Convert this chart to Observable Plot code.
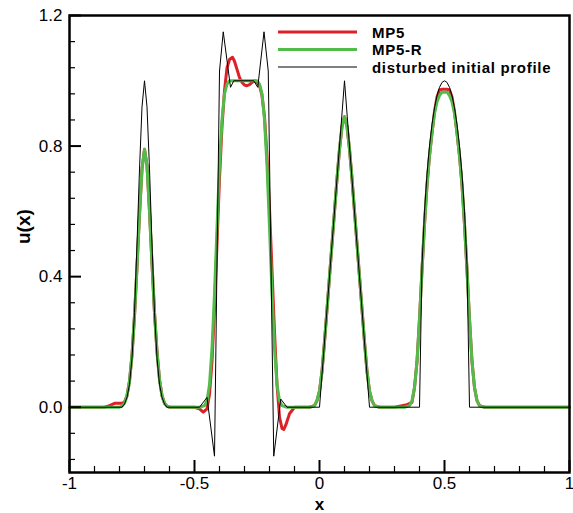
<!DOCTYPE html>
<html>
<head>
<meta charset="utf-8">
<script src="https://cdn.jsdelivr.net/npm/d3@7"></script>
<script src="https://cdn.jsdelivr.net/npm/@observablehq/plot@0.6"></script>
<style>
  body { margin: 0; background: white; }
</style>
</head>
<body>
<div id="chart"></div>
<script>
// ---- data ----
const seriesNames = ["MP5", "MP5-R", "disturbed initial profile"];

const blackX = [-1, -0.79, -0.78, -0.77, -0.76, -0.75, -0.74, -0.73, -0.72, -0.71, -0.70, -0.69, -0.68, -0.67, -0.66, -0.65, -0.64, -0.63, -0.62, -0.61,
  -0.48, -0.45, -0.42, -0.40, -0.385, -0.356, -0.343, -0.263, -0.247, -0.222, -0.205, -0.183, -0.155, -0.13,
  0, 0.1, 0.2, 0.4, 0.41, 0.42, 0.43, 0.44, 0.45, 0.46, 0.47, 0.48, 0.49, 0.50, 0.51, 0.52, 0.53, 0.54, 0.55, 0.56, 0.57, 0.58, 0.59, 0.60, 1];
const blackY = [0, 0, 0.01, 0.03, 0.07, 0.15, 0.29, 0.50, 0.73, 0.92, 1.00, 0.92, 0.73, 0.50, 0.29, 0.15, 0.07, 0.03, 0.01, 0,
  0, 0.03, -0.15, 1.03, 1.15, 0.98, 1.0, 1.0, 0.98, 1.15, 1.03, -0.15, 0.025, 0,
  0, 1.0, 0, 0, 0.436, 0.60, 0.714, 0.80, 0.866, 0.917, 0.954, 0.98, 0.995, 1.0, 0.995, 0.98, 0.954, 0.917, 0.866, 0.80, 0.714, 0.60, 0.436, 0, 0];

const mp5rX = [-1, -0.80, -0.79, -0.78, -0.77, -0.76, -0.75, -0.74, -0.73, -0.72, -0.71, -0.70, -0.69, -0.68, -0.67, -0.66, -0.65, -0.64, -0.63, -0.62, -0.61, -0.60,
  -0.48, -0.46, -0.45, -0.44, -0.43, -0.42, -0.41, -0.40, -0.39, -0.38, -0.37, -0.36, -0.25, -0.24, -0.23, -0.22, -0.21, -0.20, -0.19, -0.18, -0.17, -0.16, -0.15, -0.13,
  -0.04, -0.02, -0.01, 0.00, 0.01, 0.02, 0.03, 0.04, 0.05, 0.06, 0.07, 0.08, 0.09, 0.10, 0.11, 0.12, 0.13, 0.14, 0.15, 0.16, 0.17, 0.18, 0.19, 0.20, 0.21, 0.22, 0.24,
  0.34, 0.36, 0.37, 0.38, 0.39, 0.40, 0.41, 0.42, 0.43, 0.44, 0.45, 0.46, 0.47, 0.48, 0.49, 0.50, 0.51, 0.52, 0.53, 0.54, 0.55, 0.56, 0.57, 0.58, 0.59, 0.60, 0.61, 0.62, 0.63, 0.64, 0.66, 1];
const mp5rY = [0, 0, 0.003, 0.012, 0.035, 0.08, 0.16, 0.28, 0.43, 0.59, 0.73, 0.79, 0.74, 0.60, 0.44, 0.29, 0.17, 0.085, 0.035, 0.012, 0.003, 0,
  0, 0.005, 0.02, 0.07, 0.18, 0.35, 0.55, 0.74, 0.88, 0.96, 0.99, 1.0, 1.0, 0.99, 0.96, 0.88, 0.74, 0.55, 0.35, 0.18, 0.07, 0.02, 0.005, 0,
  0, 0.005, 0.02, 0.05, 0.11, 0.20, 0.30, 0.40, 0.50, 0.60, 0.70, 0.79, 0.86, 0.89, 0.86, 0.79, 0.70, 0.60, 0.50, 0.40, 0.30, 0.20, 0.11, 0.05, 0.02, 0.005, 0,
  0, 0.005, 0.02, 0.06, 0.14, 0.27, 0.42, 0.56, 0.68, 0.77, 0.84, 0.90, 0.935, 0.955, 0.965, 0.965, 0.965, 0.955, 0.935, 0.90, 0.84, 0.77, 0.68, 0.56, 0.42, 0.27, 0.14, 0.06, 0.02, 0.005, 0, 0];

const mp5X = [-1, -0.86, -0.84, -0.82, -0.80, -0.79, -0.78, -0.77, -0.76, -0.75, -0.74, -0.73, -0.72, -0.71, -0.70, -0.69, -0.68, -0.67, -0.66, -0.65, -0.64, -0.63, -0.62, -0.61, -0.60,
  -0.50, -0.48, -0.465, -0.45, -0.44, -0.43, -0.42, -0.41, -0.40, -0.39, -0.38, -0.37, -0.36, -0.348, -0.34, -0.33, -0.32, -0.31, -0.30, -0.29, -0.28, -0.27, -0.26, -0.25, -0.24, -0.23, -0.22, -0.21, -0.20, -0.19, -0.18, -0.17, -0.16, -0.15, -0.143, -0.135, -0.12, -0.10,
  -0.04, -0.02, -0.01, 0.00, 0.01, 0.02, 0.03, 0.04, 0.05, 0.06, 0.07, 0.08, 0.09, 0.10, 0.11, 0.12, 0.13, 0.14, 0.15, 0.16, 0.17, 0.18, 0.19, 0.20, 0.21, 0.22, 0.24,
  0.30, 0.32, 0.35, 0.37, 0.38, 0.39, 0.40, 0.41, 0.42, 0.43, 0.44, 0.45, 0.46, 0.47, 0.48, 0.49, 0.50, 0.51, 0.52, 0.53, 0.54, 0.55, 0.56, 0.57, 0.58, 0.59, 0.60, 0.61, 0.62, 0.63, 0.64, 0.66, 1];
const mp5Y = [0, 0, 0.005, 0.012, 0.012, 0.012, 0.016, 0.035, 0.08, 0.16, 0.28, 0.43, 0.59, 0.73, 0.79, 0.74, 0.60, 0.44, 0.29, 0.17, 0.085, 0.035, 0.012, 0.003, 0,
  0, -0.005, -0.015, -0.005, 0.04, 0.14, 0.30, 0.50, 0.70, 0.86, 0.97, 1.04, 1.065, 1.072, 1.06, 1.035, 1.01, 0.995, 0.987, 0.985, 0.988, 0.995, 1.0, 0.995, 0.985, 0.955, 0.89, 0.77, 0.61, 0.42, 0.23, 0.07, -0.03, -0.065, -0.068, -0.055, -0.02, 0,
  0, 0.005, 0.02, 0.05, 0.11, 0.20, 0.30, 0.40, 0.50, 0.60, 0.70, 0.79, 0.86, 0.89, 0.86, 0.79, 0.70, 0.60, 0.50, 0.40, 0.30, 0.20, 0.11, 0.05, 0.02, 0.005, 0,
  0, 0.003, 0.008, 0.015, 0.06, 0.14, 0.27, 0.42, 0.56, 0.68, 0.77, 0.84, 0.905, 0.95, 0.972, 0.974, 0.974, 0.974, 0.972, 0.95, 0.905, 0.84, 0.77, 0.68, 0.56, 0.42, 0.27, 0.14, 0.06, 0.02, 0.005, 0, 0];

const xMajor = [-1, -0.5, 0, 0.5, 1];
const xMinor = [-0.9, -0.8, -0.7, -0.6, -0.4, -0.3, -0.2, -0.1, 0.1, 0.2, 0.3, 0.4, 0.6, 0.7, 0.8, 0.9];
const yMajor = [0, 0.4, 0.8, 1.2];
const yMinor = [-0.16, -0.08, 0.08, 0.16, 0.24, 0.32, 0.48, 0.56, 0.64, 0.72, 0.88, 0.96, 1.04, 1.12];

// ---- build tables ----
const toRows = (xs, ys) => xs.map((x, i) => ({x, y: ys[i]}));
const mp5 = toRows(mp5X, mp5Y);
const mp5r = toRows(mp5rX, mp5rY);
const init = toRows(blackX, blackY);

const colors = ["#de2128", "#52bc4a", "#000000"];
const W = 573, H = 513;
const mL = 69, mR = 4, mT = 15, mB = 41;
const plotH = H - mT - mB, plotW = W - mL - mR;
const FONT = "'Liberation Sans', Arial, Helvetica, sans-serif";

const chart = Plot.plot({
  width: W, height: H,
  marginLeft: mL, marginRight: mR, marginTop: mT, marginBottom: mB,
  x: {domain: [-1, 1]},
  y: {domain: [-0.2, 1.2]},
  style: {fontFamily: FONT, fontSize: "16px", color: "black", background: "white"},
  marks: [
    Plot.line(mp5, {x: "x", y: "y", stroke: colors[0], strokeWidth: 3}),
    Plot.line(mp5r, {x: "x", y: "y", stroke: colors[1], strokeWidth: 3}),
    Plot.line(init, {x: "x", y: "y", stroke: colors[2], strokeWidth: 1}),
    Plot.tickX(xMajor, {x: d => d, insetTop: plotH - 12, stroke: "black", strokeWidth: 2}),
    Plot.tickX(xMinor, {x: d => d, insetTop: plotH - 6, stroke: "black", strokeWidth: 1.2}),
    Plot.tickY(yMajor, {y: d => d, insetRight: plotW - 12, stroke: "black", strokeWidth: 2}),
    Plot.tickY(yMinor, {y: d => d, insetRight: plotW - 6, stroke: "black", strokeWidth: 1.2}),
    Plot.axisX({ticks: xMajor, tickSize: 0, tickPadding: 4, tickFormat: d => String(d), label: null, fontSize: 17}),
    Plot.axisY({ticks: yMajor, tickSize: 0, tickPadding: 7, tickFormat: d3.format(".1f"), label: null, fontSize: 17}),
    Plot.frame({stroke: "black", strokeWidth: 2.5}),
    Plot.text(["x"], {frameAnchor: "bottom", dy: 37, lineAnchor: "bottom", fontWeight: "bold", fontSize: 17}),
    Plot.text(["u(x)"], {frameAnchor: "left", dx: -46, rotate: -90, fontWeight: "bold", fontSize: 19})
  ]
});

document.getElementById("chart").appendChild(chart);

// ---- legend (inside plot, top right) ----
const svg = d3.select(chart);
const lg = svg.append("g").attr("font-family", FONT)
  .attr("font-size", 15).attr("font-weight", "bold").attr("text-anchor", "start")
  .attr("letter-spacing", "0.7px");
const legendY = [32, 49.5, 67];
const legendW = [3, 3, 1];
seriesNames.forEach((name, i) => {
  lg.append("line").attr("x1", 278).attr("x2", 357).attr("y1", legendY[i]).attr("y2", legendY[i])
    .attr("stroke", colors[i]).attr("stroke-width", legendW[i]);
  lg.append("text").attr("x", 372).attr("y", legendY[i] + 5.5).attr("fill", "black")
    .attr("text-anchor", "start").text(name);
});
</script>
</body>
</html>
